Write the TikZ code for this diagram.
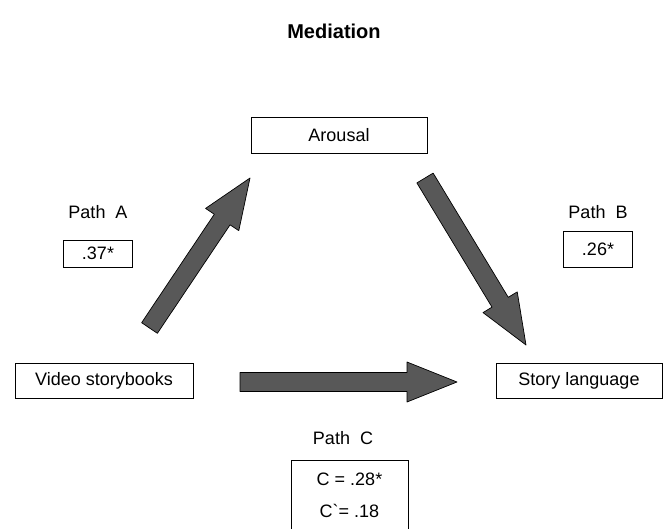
\documentclass[tikz,border=0pt]{standalone}
\usepackage{fontspec}
\setmainfont{Liberation Sans}
\usetikzlibrary{calc,positioning}

\definecolor{arrowgray}{RGB}{88,88,88}

% fat block arrow from tail #1 to tip #2
\newcommand{\blockarrow}[2]{%
	\filldraw [blockarrow] ($(#1)!9.5pt!90:(#2)$)
		-- ($(#2)!50pt!(#1)!9.5pt!-90:(#1)$)
		-- ($(#2)!50pt!(#1)!20pt!-90:(#1)$)
		-- (#2)
		-- ($(#2)!50pt!(#1)!20pt!90:(#1)$)
		-- ($(#2)!50pt!(#1)!9.5pt!90:(#1)$)
		-- ($(#1)!9.5pt!-90:(#2)$) -- cycle;}

\begin{document}
\begin{tikzpicture}[x=1pt, y=-1pt,
	font=\fontsize{18}{22}\selectfont,
	box/.style={draw, line width=0.9pt, inner sep=0pt},
	pathlabel/.style={inner sep=0pt},
	blockarrow/.style={fill=arrowgray, draw=black, line width=0.7pt, line join=round}]
	\useasboundingbox (0,0) rectangle (664,528);

	% Nodes {title, arousal, video, story}
	\node [font=\bfseries\fontsize{20}{24}\selectfont] (title) at (334,31) {Mediation};
	\node [box, minimum width=176, minimum height=36] (arousal) at (339,135) {Arousal};
	\node [box, minimum width=178, minimum height=35] (video)   at (104,380.5) {Video storybooks};
	\node [box, minimum width=166, minimum height=35] (story)   at (579,380.5) {Story language};

	% Path labels and values
	\node [pathlabel] (pathA) at (98,212)  {Path~~A};
	\node [box, minimum width=69, minimum height=27] (valA) [below=21pt of pathA] {.37*};
	\node [pathlabel] (pathB) at (598,212) {Path~~B};
	\node [box, minimum width=69, minimum height=36] (valB) [below=12pt of pathB] {.26*};
	\node [pathlabel] (pathC) at (343,438) {Path~~C};
	\node [box, minimum width=117, minimum height=70, align=center, anchor=north]
		(valC) at (349.5,460) {C = .28*\\[10pt]C\textasciigrave= .18};

	% Paths
	\coordinate (aTail) at (149.5,328);
	\coordinate (aTip)  at (250,178);
	\coordinate (bTail) at (425,178);
	\coordinate (bTip)  at (526,345);
	\coordinate (cTail) at (240,382);
	\coordinate (cTip)  at (457,382);

	\blockarrow{aTail}{aTip}
	\blockarrow{bTail}{bTip}
	\blockarrow{cTail}{cTip}

\end{tikzpicture}
\end{document}
